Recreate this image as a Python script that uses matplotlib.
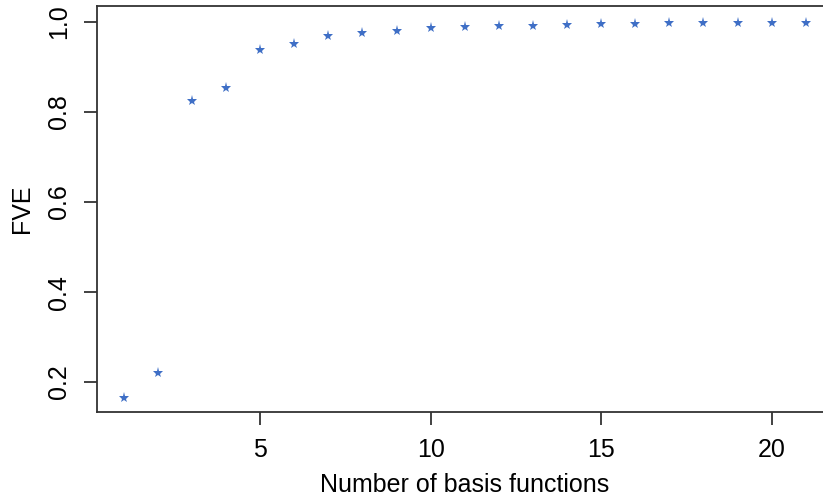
import numpy as np
import matplotlib
matplotlib.use("Agg")
import matplotlib.pyplot as plt

# number of basis functions vs fraction of variance explained
nbasis = list(range(1, 22))
fve = [0.165, 0.221, 0.824, 0.853, 0.937, 0.951, 0.969, 0.975, 0.981, 0.986,
       0.988, 0.991, 0.992, 0.994, 0.995, 0.996, 0.997, 0.997, 0.998, 0.998, 0.998]

xticks = [5, 10, 15, 20]
yticks = [0.2, 0.4, 0.6, 0.8, 1.0]

plt.rcParams['font.family'] = ['Liberation Sans', 'DejaVu Sans']

W, H = 823, 498
fig = plt.figure(figsize=(W / 100, H / 100), dpi=100)
# plot box runs past the right edge of the picture (cropped)
left, right, top, bottom = 96.5, 833, 6, 412
ax = fig.add_axes([left / W, (H - bottom) / H, (right - left) / W, (bottom - top) / H])

ax.plot(nbasis, fve, linestyle='none', marker='*', markersize=8,
        color='#3f6fc6', markeredgewidth=0)

ax.set_xlim(0.2, 21.8)
ax.set_ylim(0.1336, 1.0356)
ax.set_xticks(xticks)
ax.set_yticks(yticks)
ax.set_yticklabels([f"{v:.1f}" for v in yticks], rotation=90, va='center')

for s in ax.spines.values():
    s.set_linewidth(1.3)
    s.set_color('#333333')
ax.tick_params(length=9.5, width=1.3, color='#333333', labelsize=18)
ax.tick_params(axis='x', pad=9)
ax.tick_params(axis='y', pad=9)

ax.set_xlabel('Number of basis functions', fontsize=18, labelpad=8)
ax.set_ylabel('FVE', fontsize=18, labelpad=9)

fig.savefig('out.png', dpi=100)
